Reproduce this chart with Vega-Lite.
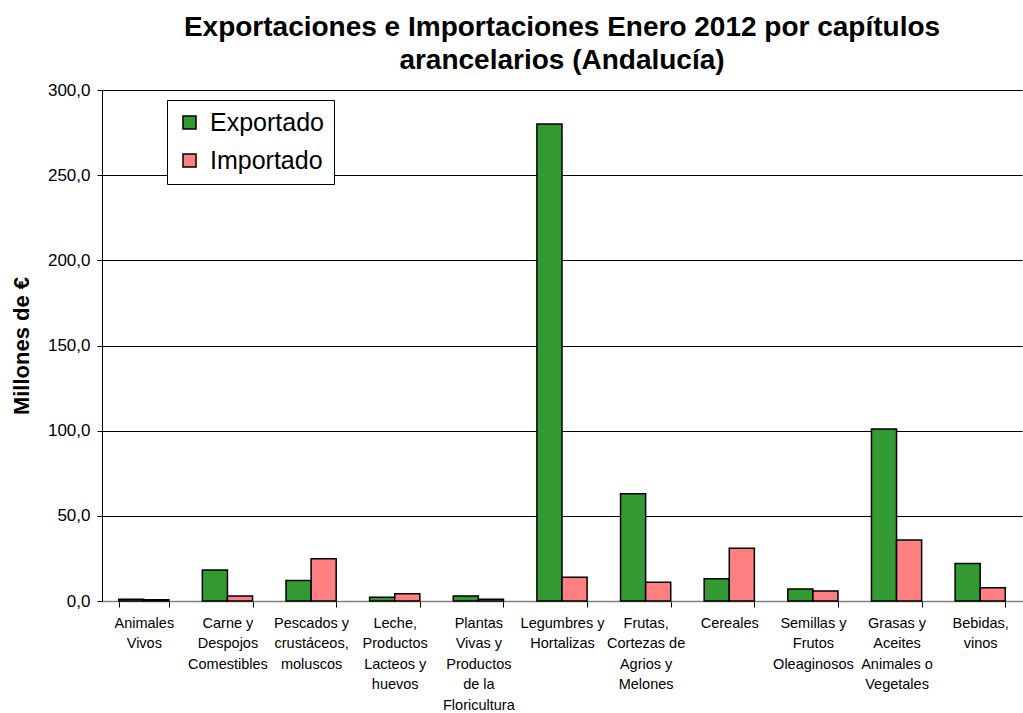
{
  "$schema": "https://vega.github.io/schema/vega-lite/v6.json",
  "autosize": {"type": "none"},
  "width": 920,
  "height": 511,
  "padding": {"left": 102, "top": 90, "right": 1, "bottom": 112},
  "title": {
    "text": ["Exportaciones e Importaciones Enero 2012 por capítulos", "arancelarios (Andalucía)"],
    "font": "Liberation Sans",
    "fontSize": 28,
    "fontWeight": "bold",
    "color": "black",
    "lineHeight": 33,
    "anchor": "middle",
    "offset": 6
  },
  "config": {
    "view": {"stroke": null},
    "font": "Liberation Sans"
  },
  "data": {
    "values": [
      {"cat": "Animales\nVivos", "tipo": "Exportado", "v": 1.0},
      {"cat": "Animales\nVivos", "tipo": "Importado", "v": 0.8},
      {"cat": "Carne y\nDespojos\nComestibles", "tipo": "Exportado", "v": 18.2},
      {"cat": "Carne y\nDespojos\nComestibles", "tipo": "Importado", "v": 3.0},
      {"cat": "Pescados y\ncrustáceos,\nmoluscos", "tipo": "Exportado", "v": 12.0},
      {"cat": "Pescados y\ncrustáceos,\nmoluscos", "tipo": "Importado", "v": 24.8},
      {"cat": "Leche,\nProductos\nLacteos y\nhuevos", "tipo": "Exportado", "v": 2.2},
      {"cat": "Leche,\nProductos\nLacteos y\nhuevos", "tipo": "Importado", "v": 4.3},
      {"cat": "Plantas\nVivas y\nProductos\nde la\nFloricultura", "tipo": "Exportado", "v": 3.0},
      {"cat": "Plantas\nVivas y\nProductos\nde la\nFloricultura", "tipo": "Importado", "v": 1.0},
      {"cat": "Legumbres y\nHortalizas", "tipo": "Exportado", "v": 280.0},
      {"cat": "Legumbres y\nHortalizas", "tipo": "Importado", "v": 14.0},
      {"cat": "Frutas,\nCortezas de\nAgrios y\nMelones", "tipo": "Exportado", "v": 63.0},
      {"cat": "Frutas,\nCortezas de\nAgrios y\nMelones", "tipo": "Importado", "v": 11.0},
      {"cat": "Cereales", "tipo": "Exportado", "v": 13.0},
      {"cat": "Cereales", "tipo": "Importado", "v": 31.0},
      {"cat": "Semillas y\nFrutos\nOleaginosos", "tipo": "Exportado", "v": 7.0},
      {"cat": "Semillas y\nFrutos\nOleaginosos", "tipo": "Importado", "v": 5.9},
      {"cat": "Grasas y\nAceites\nAnimales o\nVegetales", "tipo": "Exportado", "v": 101.0},
      {"cat": "Grasas y\nAceites\nAnimales o\nVegetales", "tipo": "Importado", "v": 35.8},
      {"cat": "Bebidas,\nvinos", "tipo": "Exportado", "v": 22.0},
      {"cat": "Bebidas,\nvinos", "tipo": "Importado", "v": 7.8}
    ]
  },
  "mark": {"type": "bar", "stroke": "black", "strokeWidth": 1.5},
  "encoding": {
    "x": {
      "field": "cat",
      "type": "nominal",
      "sort": null,
      "scale": {"paddingInner": 0.4, "paddingOuter": 0.2},
      "axis": {
        "title": null,
        "labelAngle": 0,
        "labelExpr": "split(datum.label, '\\n')",
        "labelFontSize": 14.5,
        "labelLineHeight": 20.5,
        "labelColor": "black",
        "labelPadding": 9,
        "labelLimit": 200,
        "labelOverlap": false,
        "tickBand": "extent",
        "tickSize": 6,
        "tickColor": "black",
        "domainColor": "#808080",
        "domainWidth": 1.5
      }
    },
    "xOffset": {"field": "tipo", "type": "nominal", "sort": ["Exportado", "Importado"]},
    "y": {
      "field": "v",
      "type": "quantitative",
      "scale": {"domain": [0, 300], "nice": false},
      "axis": {
        "title": "Millones de €",
        "titleFontSize": 22,
        "titleFontWeight": "bold",
        "titleColor": "black",
        "titlePadding": 14,
        "values": [0, 50, 100, 150, 200, 250, 300],
        "labelExpr": "replace(format(datum.value, '.1f'), '.', ',')",
        "labelFontSize": 17,
        "labelColor": "black",
        "labelPadding": 7,
        "tickSize": 5,
        "tickColor": "black",
        "domainColor": "black",
        "grid": true,
        "gridColor": "black",
        "gridWidth": 1
      }
    },
    "color": {
      "field": "tipo",
      "type": "nominal",
      "sort": ["Exportado", "Importado"],
      "scale": {"domain": ["Exportado", "Importado"], "range": ["#339933", "#FF8080"]},
      "legend": {
        "title": null,
        "orient": "none",
        "legendX": 65,
        "legendY": 10,
        "fillColor": "white",
        "strokeColor": "black",
        "padding": 10,
        "symbolType": "square",
        "symbolSize": 170,
        "symbolStrokeColor": "black",
        "symbolStrokeWidth": 1.5,
        "labelFontSize": 25,
        "labelColor": "black",
        "rowPadding": 12,
        "labelOffset": 8
      }
    }
  }
}
